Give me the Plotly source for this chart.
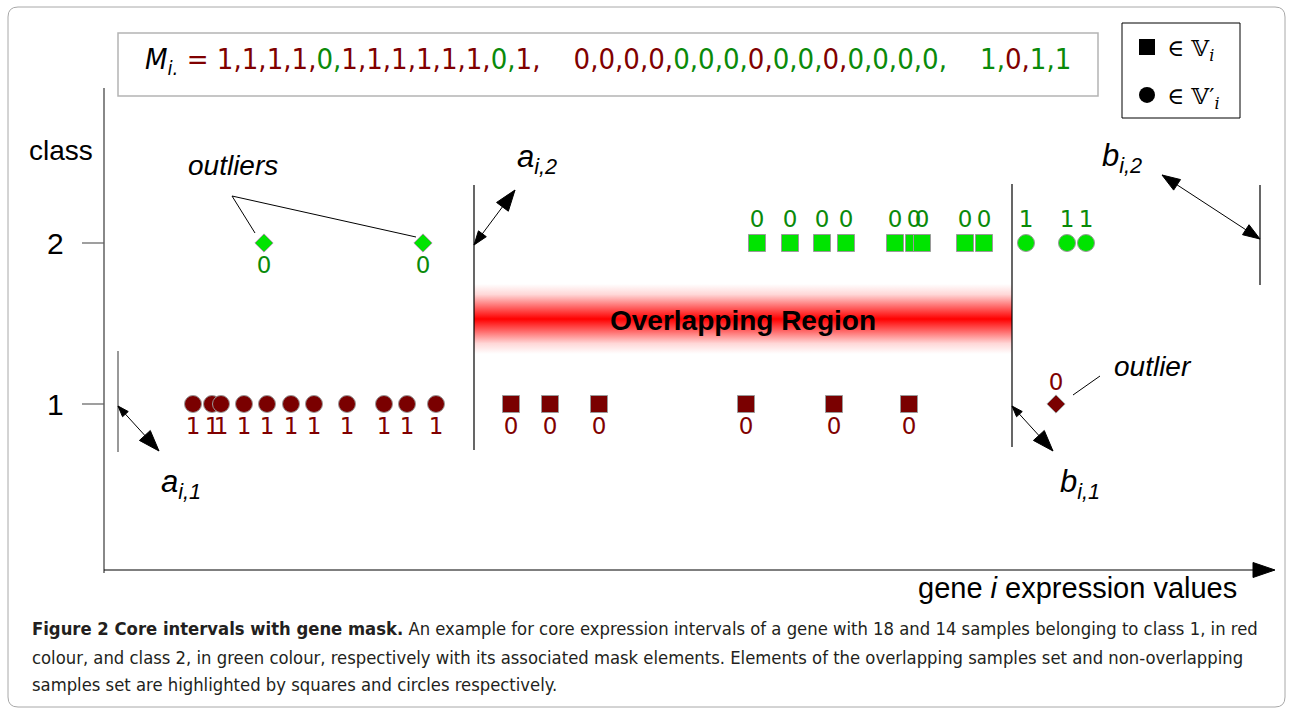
import math
import plotly.graph_objects as go

# ---------------------------------------------------------------------------
# Expression values of gene i for every sample, split by class and by role
# ---------------------------------------------------------------------------
class1_core = [193, 212, 221, 244, 267, 291, 314, 347, 384, 407, 436]   # non-overlapping (circles)
class1_overlap = [511, 550, 599, 746, 834, 909]                          # overlapping (squares)
class1_outliers = [1056]
class2_outliers = [264, 423]
class2_overlap = [757, 790, 822, 846, 895, 914, 922, 965, 984]
class2_core = [1026, 1067, 1086]

# core expression interval bounds [a_{i,k}, b_{i,k}] for class k
a_i1, b_i1 = 118, 1012
a_i2, b_i2 = 474, 1260

class_levels = [1, 2]
class_tick_text = ["1", "2"]

# ---------------------------------------------------------------------------
# Styling
# ---------------------------------------------------------------------------
W, H = 1292, 709
RED = "#7a0000"
RED_TXT = "#800000"
GREEN = "#00e400"
GREEN_TXT = "#0a8a0a"
EDGE = "#9a9a9a"
AXIS = "#606060"
SANS = "Liberation Sans, Arial, sans-serif"
COND = "DejaVu Sans Condensed, Liberation Sans Narrow, DejaVu Sans, sans-serif"

# page rows of the two class levels; the class axis is scaled from them
Y1_PX, Y2_PX = 404, 243
unit = Y1_PX - Y2_PX
y_range = [1 - (H - Y1_PX) / unit, 2 + Y2_PX / unit]


def off(px):
    return px / unit


def markers(x, level, symbol, color, size):
    return go.Scatter(
        x=x, y=[level] * len(x), mode="markers",
        marker=dict(symbol=symbol, size=size, color=color,
                    line=dict(color=EDGE, width=1)),
        showlegend=False, hoverinfo="skip")


def labels(x, level, value, dy_px, color):
    return go.Scatter(
        x=x, y=[level - off(dy_px)] * len(x), mode="text",
        text=[str(value)] * len(x), textposition="middle center",
        textfont=dict(family="DejaVu Sans, sans-serif", size=23, color=color),
        showlegend=False, hoverinfo="skip")


fig = go.Figure()

# overlapping region between a_{i,2} and b_{i,1}
fig.add_trace(go.Scatter(
    x=[a_i2, b_i1, b_i1, a_i2, a_i2], y=[284, 284, 354, 354, 284], yaxis="y2",
    mode="lines", line=dict(width=0), fill="toself",
    fillgradient=dict(type="vertical", colorscale=[
        [0.0, "rgb(255,255,255)"], [0.15, "rgb(255,215,215)"],
        [0.35, "rgb(255,90,90)"], [0.5, "rgb(255,0,0)"],
        [0.65, "rgb(255,90,90)"], [0.85, "rgb(255,215,215)"],
        [1.0, "rgb(255,255,255)"]]),
    showlegend=False, hoverinfo="skip"))

# class 1 samples
fig.add_trace(markers(class1_core, 1, "circle", RED, 17))
fig.add_trace(markers(class1_overlap, 1, "square", RED, 17))
fig.add_trace(markers(class1_outliers, 1, "diamond", RED, 14))
fig.add_trace(labels(class1_core, 1, 1, 24, RED_TXT))
fig.add_trace(labels(class1_overlap, 1, 0, 24, RED_TXT))
fig.add_trace(labels(class1_outliers, 1, 0, -20, RED_TXT))

# class 2 samples
fig.add_trace(markers(class2_outliers, 2, "diamond", GREEN, 14))
fig.add_trace(markers(class2_overlap, 2, "square", GREEN, 17))
fig.add_trace(markers(class2_core, 2, "circle", GREEN, 17))
fig.add_trace(labels(class2_outliers, 2, 0, 24, GREEN_TXT))
fig.add_trace(labels(class2_overlap, 2, 0, -22, GREEN_TXT))
fig.add_trace(labels(class2_core, 2, 1, -22, GREEN_TXT))

# key: squares = overlapping set, circles = non-overlapping set
fig.add_trace(go.Scatter(
    x=[None], y=[None], mode="markers", legend="legend",
    marker=dict(symbol="square", size=16, color="black"),
    name="∈ 𝕍<sub><i>i</i></sub>"))
fig.add_trace(go.Scatter(
    x=[None], y=[None], mode="markers", legend="legend2",
    marker=dict(symbol="circle", size=16, color="black"),
    name="∈ 𝕍′<sub><i>i</i></sub>"))

# ---------------------------------------------------------------------------
# Gene mask text built from the sorted samples
# ---------------------------------------------------------------------------
samples = ([(x, 1, 1) for x in class1_core] + [(x, 1, 0) for x in class1_overlap]
           + [(x, 1, 0) for x in class1_outliers] + [(x, 2, 0) for x in class2_outliers]
           + [(x, 2, 0) for x in class2_overlap] + [(x, 2, 1) for x in class2_core])
samples.sort()
groups = [[], [], []]
for x, cls, m in samples:
    g = 0 if x < a_i2 else (1 if x <= b_i1 else 2)
    groups[g].append((cls, m))

parts = []
for gi, grp in enumerate(groups):
    s = ""
    for k, (cls, m) in enumerate(grp):
        last = gi == len(groups) - 1 and k == len(grp) - 1
        col = RED_TXT if cls == 1 else GREEN_TXT
        s += f"<span style='color:{col}'>{m}{'' if last else ','}</span>"
    parts.append(s)
mask_text = (f"<i>M</i><sub><i>i.</i></sub> <span style='color:{RED_TXT}'>=</span> "
             + "&nbsp;&nbsp;&nbsp;&nbsp;".join(parts))

# ---------------------------------------------------------------------------
# Shapes: frame, axes, interval bounds, arrows
# ---------------------------------------------------------------------------
shapes = []


def pline(x0, y0, x1, y1, color="black", width=1, yref="y2"):
    shapes.append(dict(type="line", xref="x", yref=yref, x0=x0, y0=y0, x1=x1, y1=y1,
                       line=dict(color=color, width=width)))


def head(tip, tail, length, width):
    dx, dy = tip[0] - tail[0], tip[1] - tail[1]
    n = math.hypot(dx, dy)
    ux, uy = dx / n, dy / n
    bx, by = tip[0] - ux * length, tip[1] - uy * length
    px, py = -uy * width / 2, ux * width / 2
    shapes.append(dict(type="path", xref="x", yref="y2",
                       path=f"M{tip[0]},{tip[1]} L{bx + px},{by + py} L{bx - px},{by - py} Z",
                       fillcolor="black", line=dict(color="black", width=1)))


def double_arrow(p0, p1, h0, h1):
    pline(p0[0], p0[1], p1[0], p1[1])
    head(p0, p1, h0, h0 * 0.7)
    head(p1, p0, h1, h1 * 0.7)


# outer frame
shapes.append(dict(type="path", xref="x", yref="y2",
                   path="M18,7 H1275 Q1285,7 1285,17 V697 Q1285,707 1275,707 H18 Q8,707 8,697 V17 Q8,7 18,7 Z",
                   line=dict(color="#a8a8a8", width=1)))
# mask box and key box
shapes.append(dict(type="rect", xref="x", yref="y2", x0=118, y0=33, x1=1098, y1=96,
                   line=dict(color="#b4b4b4", width=1.5)))
shapes.append(dict(type="rect", xref="x", yref="y2", x0=1122, y0=23, x1=1240, y1=118,
                   line=dict(color="black", width=1)))

# axes
pline(104, 88, 104, 573, AXIS, 1.5)
pline(104, 570, 1262, 570, "black", 1.2)
head((1275, 570), (1200, 570), 22, 15)
for lvl in class_levels:
    pline(82, lvl, 104, lvl, AXIS, 1.2, yref="y")

# interval bounds
pline(a_i1, 351, a_i1, 452, "#777777", 1.5)
pline(a_i2, 185, a_i2, 450, "black", 1.2)
pline(b_i1, 184, b_i1, 447, "black", 1.2)
pline(b_i2, 185, b_i2, 285, "black", 1.2)

double_arrow((a_i1, 406), (159, 451), 11, 21)
double_arrow((a_i2, 245), (515, 190), 14, 21)
double_arrow((1162, 175), (b_i2, 239), 18, 17)
double_arrow((b_i1, 406), (1053, 451), 11, 21)

# outlier pointers
pline(232, 196, 255, 233)
pline(232, 196, 416, 237)
pline(1100, 376, 1073, 395)

# ---------------------------------------------------------------------------
# Annotations
# ---------------------------------------------------------------------------
ann = []


def text(x, y, s, size, family=SANS, color="black", xanchor="center", yref="y2"):
    ann.append(dict(x=x, y=y, xref="x", yref=yref, text=s, showarrow=False,
                    xanchor=xanchor, yanchor="middle",
                    font=dict(family=family, size=size, color=color)))


text(143, 61, mask_text, 29, family=COND, xanchor="left")
text(61, 150, "class", 28)
for lvl, t in zip(class_levels, class_tick_text):
    text(55, lvl, t, 30, yref="y")
text(1077, 588, "gene <i>i</i> expression values", 29)
text(233, 165, "<i>outliers</i>", 28)
text(1153, 366, "<i>outlier</i>", 28)
text(743, 320, "<b>Overlapping Region</b>", 28)
text(181, 484, "<i>a<sub>i,1</sub></i>", 31)
text(537, 159, "<i>a<sub>i,2</sub></i>", 31)
text(1122, 158, "<i>b<sub>i,2</sub></i>", 31)
text(1080, 484, "<i>b<sub>i,1</sub></i>", 31)

caption = [
    "<b>Figure 2 Core intervals with gene mask.</b> An example for core expression intervals "
    "of a gene with 18 and 14 samples belonging to class 1, in red",
    "colour, and class 2, in green colour, respectively with its associated mask elements. "
    "Elements of the overlapping samples set and non-overlapping",
    "samples set are highlighted by squares and circles respectively.",
]
for yy, line in zip([628, 657, 684], caption):
    text(30, yy, line, 18.3, family=COND, color="#231f20", xanchor="left")

legend_common = dict(xanchor="left", yanchor="middle", bgcolor="rgba(0,0,0,0)",
                     borderwidth=0, font=dict(family="DejaVu Serif, serif", size=23, color="black"),
                     itemclick=False, itemdoubleclick=False)

fig.update_layout(
    width=W, height=H, margin=dict(l=0, r=0, t=0, b=0),
    paper_bgcolor="white", plot_bgcolor="white",
    xaxis=dict(range=[0, W], visible=False, fixedrange=True),
    yaxis=dict(range=y_range, visible=False, fixedrange=True),
    yaxis2=dict(range=[H, 0], overlaying="y", visible=False, fixedrange=True),
    shapes=shapes, annotations=ann,
    legend=dict(x=1127 / W, y=1 - 47 / H, **legend_common),
    legend2=dict(x=1127 / W, y=1 - 95 / H, **legend_common),
)

fig.write_html("out.html")
